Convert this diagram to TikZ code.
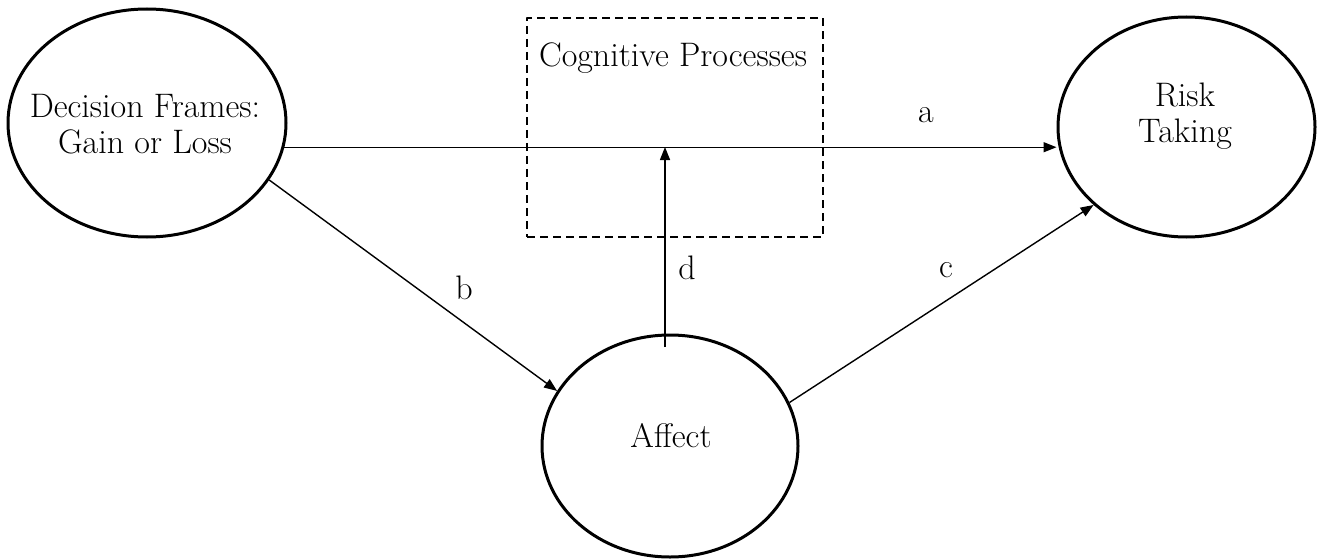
\documentclass[tikz,border=0pt]{standalone}
\usetikzlibrary{arrows.meta,shapes.geometric}

\begin{document}
\begin{tikzpicture}[
  x=1pt,
  y=-1pt,
  line join=round,
  construct/.style={draw=black,line width=3pt,ellipse,inner sep=0pt},
  constructtext/.style={align=center,inner sep=0pt,font=\fontsize{34}{36}\selectfont},
  processbox/.style={draw=black,line width=2pt,dash pattern=on 8pt off 5pt,inner sep=0pt},
  link/.style={draw=black,line width=1.4pt,-{Triangle[length=13pt,width=10pt]}},
  linklabel/.style={inner sep=0pt,font=\fontsize{34}{36}\selectfont}
]
  \useasboundingbox (0,0) rectangle (1324,559);

  % Constructs of the model.
  \node[construct,minimum width=278pt,minimum height=228pt] (frames) at (147,123) {};
  \node[construct,minimum width=257pt,minimum height=220pt] (risk) at (1186.5,127) {};
  \node[construct,minimum width=256pt,minimum height=222pt] (affect) at (670,446) {};
  \node[processbox,minimum width=296pt,minimum height=219pt] (cog) at (675,127.5) {};

  \node[constructtext] (framestext) at (145,124) {Decision Frames:\\Gain or Loss};
  \node[constructtext] (risktext) at (1185,116) {Risk\\Taking};
  \node[constructtext] (affecttext) at (671,436) {Affect};
  \node[constructtext,anchor=base] (cogtext) at (673,67) {Cognitive Processes};

  % Paths between the constructs.
  \coordinate (dfoot) at (665,347);
  \coordinate (dtip) at (665,147);
  \draw[link] (frames.-10) -- (risk.west |- frames.-10);
  \draw[link] (frames.-25) -- (affect.154);
  \draw[link] (affect.20) -- (risk.-140);
  \draw[link] (dfoot) -- (dtip);

  \node[linklabel] (alabel) at (926,115) {a};
  \node[linklabel] (blabel) at (464,288) {b};
  \node[linklabel] (clabel) at (946,270) {c};
  \node[linklabel] (dlabel) at (687,268) {d};
\end{tikzpicture}
\end{document}
